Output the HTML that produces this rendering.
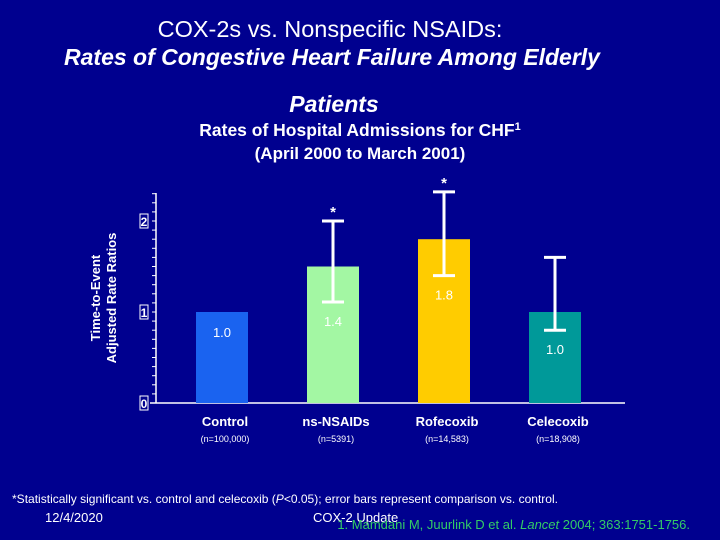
<!DOCTYPE html>
<html><head><meta charset="utf-8"><style>
body{margin:0;width:720px;height:540px;background:#00008f;overflow:hidden;font-family:"Liberation Sans",Arial,sans-serif;color:#fff}
svg{position:absolute;left:0;top:0}
</style></head><body>
<svg width="720" height="540">
<text x="330" y="37" font-size="23.5" text-anchor="middle" fill="#fff">COX-2s vs. Nonspecific NSAIDs:</text>
<text x="332" y="65" font-size="23" font-weight="bold" font-style="italic" text-anchor="middle" fill="#fff">Rates of Congestive Heart Failure Among Elderly</text>
<text x="334" y="112" font-size="23" font-weight="bold" font-style="italic" text-anchor="middle" fill="#fff">Patients</text>
<text x="360" y="136" font-size="17.5" font-weight="bold" text-anchor="middle" fill="#fff">Rates of Hospital Admissions for CHF<tspan font-size="11" dy="-6">1</tspan></text>
<text x="360" y="159" font-size="17" font-weight="bold" text-anchor="middle" fill="#fff">(April 2000 to March 2001)</text>
<text transform="translate(100,298) rotate(-90)" font-size="13" font-weight="bold" text-anchor="middle" fill="#fff">Time-to-Event</text>
<text transform="translate(116,298) rotate(-90)" font-size="13" font-weight="bold" text-anchor="middle" fill="#fff">Adjusted Rate Ratios</text>
<g id="plot"></g>
<text x="12" y="503" font-size="12" fill="#fff" textLength="546" lengthAdjust="spacingAndGlyphs">*Statistically significant vs. control and celecoxib (<tspan font-style="italic">P</tspan>&lt;0.05); error bars represent comparison vs. control.</text>
<text x="45" y="522" font-size="13" fill="#fff">12/4/2020</text>
<text x="313" y="522" font-size="13" fill="#fff">COX-2 Update</text>
<text x="690" y="529" font-size="13" text-anchor="end" fill="#33cc66">1. Mamdani M, Juurlink D et al. <tspan font-style="italic">Lancet</tspan> 2004; 363:1751-1756.</text>
</svg>
<script>
const categories=["Control","ns-NSAIDs","Rofecoxib","Celecoxib"];
const sampleSizes=["(n=100,000)","(n=5391)","(n=14,583)","(n=18,908)"];
const barValues=[1.0,1.5,1.8,1.0];
const valueLabels=["1.0","1.4","1.8","1.0"];
const errLow=[null,1.11,1.4,0.8];
const errHigh=[null,2.0,2.32,1.6];
const significant=[false,true,true,false];
const yTicks=[0,1,2];
const colors=["#1a63f0","#a3f7a3","#ffcc00","#009999"];
const NS="http://www.w3.org/2000/svg";
const g=document.getElementById('plot');
const y=v=>403-v*91;
const xc=i=>222+i*111;
function mk(t,a){const e=document.createElementNS(NS,t);for(const k in a)e.setAttribute(k,a[k]);g.appendChild(e);return e;}
let ax=mk('line',{x1:156,y1:193,x2:156,y2:403,stroke:'#fff','stroke-width':1.5});


let bl=mk('line',{x1:150,y1:403,x2:625,y2:403,stroke:'#fff','stroke-width':1.5});


for(let k=1;k<=23;k++){const t=mk('line',{x1:152,x2:156,y1:y(k/10),y2:y(k/10),stroke:'#fff','stroke-width':1});

}
yTicks.forEach(v=>{const r=mk('rect',{x:140,y:y(v)-7,width:8,height:14,fill:'none',stroke:'#fff','stroke-width':1});


const t=mk('text',{x:144,y:y(v)+5,'font-size':12,'font-weight':'bold','text-anchor':'middle',fill:'#fff'});t.textContent=v;

});
categories.forEach((c,i)=>{const cx=xc(i);
const b=mk('rect',{x:cx-26,y:y(barValues[i]),width:52,height:y(0)-y(barValues[i]),fill:colors[i]});


if(errLow[i]!=null){const s={stroke:'#fff','stroke-width':3};
const e1=mk('line',Object.assign({x1:cx,x2:cx,y1:y(errHigh[i]),y2:y(errLow[i])},s));


const e2=mk('line',Object.assign({x1:cx-11,x2:cx+11,y1:y(errHigh[i]),y2:y(errHigh[i])},s));


const e3=mk('line',Object.assign({x1:cx-11,x2:cx+11,y1:y(errLow[i]),y2:y(errLow[i])},s));

}
if(significant[i]){const st=mk('text',{x:cx,y:y(errHigh[i])-4,'font-size':15,'font-weight':'bold','text-anchor':'middle',fill:'#fff'});st.textContent='*';

}
const ly=errLow[i]!=null?Math.max(y(errLow[i])+24,y(barValues[i])+22):y(barValues[i])+25;
const vl=mk('text',{x:cx,y:ly,'font-size':13,'text-anchor':'middle',fill:'#fff'});vl.textContent=valueLabels[i];


const cl=mk('text',{x:cx+3,y:426,'font-size':13,'font-weight':'bold','text-anchor':'middle',fill:'#fff'});cl.textContent=c;


const nl=mk('text',{x:cx+3,y:442,'font-size':9,'text-anchor':'middle',fill:'#fff'});nl.textContent=sampleSizes[i];

});
</script>
</body></html>
